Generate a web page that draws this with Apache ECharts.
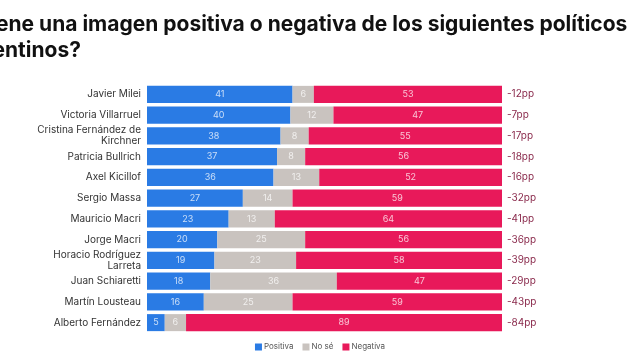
<!DOCTYPE html>
<html>
<head>
<meta charset="utf-8">
<script src="https://cdn.jsdelivr.net/npm/echarts@6/dist/echarts.min.js"></script>
<style>html,body{margin:0;padding:0;background:#fff;}#c{width:640px;height:364px;}</style>
</head>
<body>
<div id="c"></div>
<script>
const categories = ["Javier Milei","Victoria Villarruel","Cristina Fernández de\nKirchner","Patricia Bullrich","Axel Kicillof","Sergio Massa","Mauricio Macri","Jorge Macri","Horacio Rodríguez\nLarreta","Juan Schiaretti","Martín Lousteau","Alberto Fernández"];
const positiva = [41,40,38,37,36,27,23,20,19,18,16,5];
const nose = [6,12,8,8,13,14,13,25,23,36,25,6];
const negativa = [53,47,55,56,52,59,64,56,58,47,59,89];
const netLabels = ["-12pp","-7pp","-17pp","-18pp","-16pp","-32pp","-41pp","-36pp","-39pp","-29pp","-43pp","-84pp"];
const titleLine1 = "¿Tiene una imagen positiva o negativa de los siguientes políticos";
const titleLine2 = "argentinos?";

const totals = positiva.map((v,i)=>v+nose[i]+negativa[i]);
const norm = arr => arr.map((v,i)=>({value: v/totals[i]*100, raw: v}));

const chart = echarts.init(document.getElementById('c'));
const lbl = {show:true, position:'inside', color:'rgba(255,255,255,0.75)', fontSize:9, fontFamily:'Inter', formatter: p => p.data.raw};
const tStyle = {fontFamily:'Inter', fontWeight:'bold', fontSize:21, color:'#111'};
chart.setOption({
  animation:false,
  backgroundColor:'#fff',
  title:[{text:titleLine1, left:-39, top:9, textStyle:tStyle},
         {text:titleLine2, left:-46, top:35, textStyle:tStyle}],
  legend:{bottom:8, left:'center', itemWidth:7, itemHeight:7, itemGap:9, icon:'rect',
    textStyle:{fontFamily:'Inter', fontSize:8, color:'#555', padding:[0,0,0,-3]},
    data:['Positiva','No sé','Negativa']},
  grid:{left:147, right:138, top:84, bottom:31},
  xAxis:{type:'value', min:0, max:100, show:false},
  yAxis:[{type:'category', data:categories, inverse:true, axisLine:{show:false}, axisTick:{show:false},
    axisLabel:{fontFamily:'Inter', fontSize:10, color:'#333', margin:6, lineHeight:11}},
    {type:'category', data:netLabels, inverse:true, position:'right', axisLine:{show:false}, axisTick:{show:false},
    axisLabel:{fontFamily:'Inter', fontSize:10, color:'#8a2a4c', margin:5, align:'left'}}],
  series:[
    {name:'Positiva', type:'bar', stack:'s', data:norm(positiva), itemStyle:{color:'#2a7be4'}, label:lbl, barCategoryGap:'18%'},
    {name:'No sé', type:'bar', stack:'s', data:norm(nose), itemStyle:{color:'#c9c3bf'}, label:lbl, barCategoryGap:'18%'},
    {name:'Negativa', type:'bar', stack:'s', data:norm(negativa), itemStyle:{color:'#e8195a'}, label:lbl, barCategoryGap:'18%'}
  ]
});
</script>
</body>
</html>
